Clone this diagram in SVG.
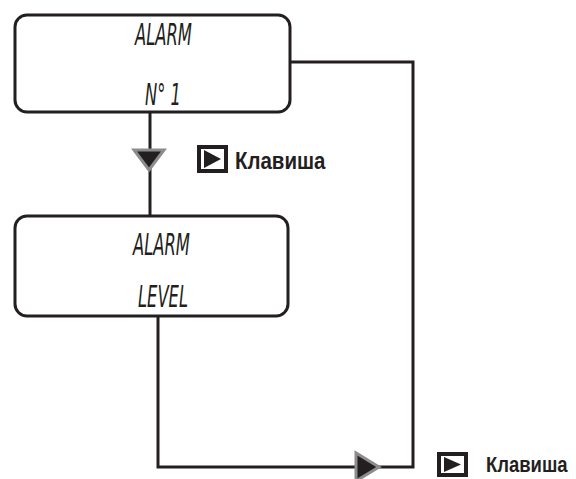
<svg xmlns="http://www.w3.org/2000/svg" width="576" height="479" viewBox="0 0 576 479">
<style>
.box{fill:#fff;stroke:#231f20;stroke-width:3}
.ln{fill:none;stroke:#231f20;stroke-width:3;stroke-linejoin:miter}
.tri{fill:#231f20;stroke:#8c8c8c;stroke-width:3;stroke-linejoin:miter}
.lcd{font-family:"DejaVu Sans Condensed","DejaVu Sans",sans-serif;font-style:oblique;font-size:30px;fill:#231f20}
.key{font-family:"Liberation Sans",Arial,sans-serif;font-weight:bold;font-size:23px;fill:#231f20}
.keyb{fill:#fff;stroke:#231f20;stroke-width:4}
.keyt{fill:#231f20}
</style>
<rect width="576" height="479" fill="#fff"/>
<g id="connectors">
<path class="ln" d="M150,112 V216"/>
<path class="ln" d="M291,62 H413 V467 H158 V316"/>
<polygon class="tri" points="134,150 164,150 149,170"/>
<polygon class="tri" points="356,453 356,481 379,467"/>
</g>
<g id="node1">
<rect class="box" x="15" y="15" width="275" height="97" rx="12"/>
<text class="lcd" x="135" y="45" textLength="57" lengthAdjust="spacingAndGlyphs">ALARM</text>
<text class="lcd" x="145" y="105" textLength="36" lengthAdjust="spacingAndGlyphs">N° 1</text>
</g>
<g id="node2">
<rect class="box" x="15" y="216" width="273" height="100" rx="12"/>
<text class="lcd" x="133" y="255" textLength="57" lengthAdjust="spacingAndGlyphs">ALARM</text>
<text class="lcd" x="138" y="307" textLength="50" lengthAdjust="spacingAndGlyphs">LEVEL</text>
</g>
<g id="key1">
<rect class="keyb" x="199" y="147" width="27" height="24"/>
<polygon class="keyt" points="204,150 204,168 221,159"/>
<text class="key" transform="translate(235,169) scale(0.89,1)">Клавиша</text>
</g>
<g id="key2">
<rect class="keyb" x="439" y="454" width="27" height="21"/>
<polygon class="keyt" points="444,457 444,472 461,464.5"/>
<text class="key" transform="translate(486,472) scale(0.84,1)" style="font-size:22px">Клавиша</text>
</g>
</svg>
